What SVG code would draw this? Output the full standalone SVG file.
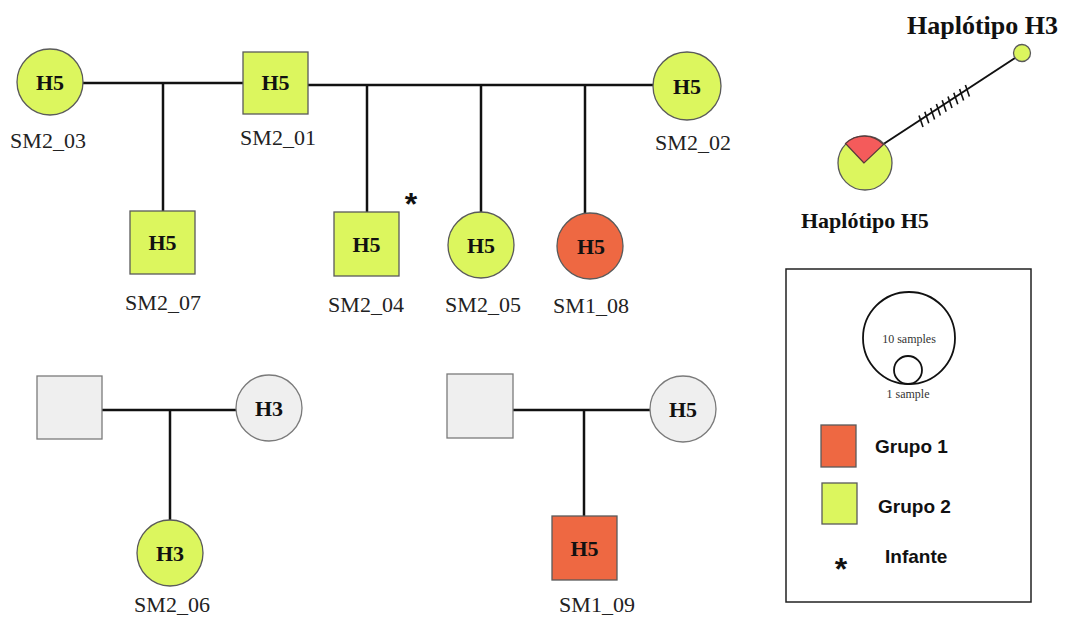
<svg xmlns="http://www.w3.org/2000/svg" width="1066" height="619" viewBox="0 0 1066 619">
<style>
.g{fill:#dcf65e;stroke:#5a5a5a;stroke-width:1.3}
.r{fill:#ee6842;stroke:#5a5a5a;stroke-width:1.3}
.n{fill:#efefef;stroke:#7a7a7a;stroke-width:1.3}
.h{font-family:"Liberation Serif",serif;font-weight:bold;font-size:22px;fill:#111;text-anchor:middle}
.l{font-family:"Liberation Serif",serif;font-size:22px;fill:#222;text-anchor:middle}
.c line,.c polyline{stroke:#111;stroke-width:2.5;fill:none}
.ht{font-family:"Liberation Serif",serif;font-weight:bold;fill:#111}
.lg{font-family:"Liberation Sans",sans-serif;font-weight:bold;font-size:19px;fill:#111}
.s{font-family:"Liberation Serif",serif;font-size:12px;fill:#333;text-anchor:middle}
.ast{font-family:"Liberation Sans",sans-serif;font-weight:bold;font-size:32px;fill:#111;text-anchor:middle}
</style>
<rect width="1066" height="619" fill="#fff"/>
<g class="c" id="connectors">
<line x1="83" y1="83" x2="243" y2="83"/>
<line x1="163" y1="83" x2="163" y2="211"/>
<line x1="308" y1="85" x2="654" y2="85"/>
<line x1="367" y1="85" x2="367" y2="212"/>
<line x1="481" y1="85" x2="481" y2="212"/>
<line x1="585" y1="85" x2="585" y2="213"/>
<line x1="102" y1="410" x2="236" y2="410"/>
<line x1="170" y1="410" x2="170" y2="520"/>
<line x1="513" y1="410" x2="650" y2="410"/>
<line x1="584" y1="410" x2="584" y2="516"/>
</g>
<g id="SM2_03"><circle class="g" cx="50" cy="82" r="33"/><text class="h" x="50" y="90">H5</text><text class="l" x="48" y="148">SM2_03</text></g>
<g id="SM2_01"><rect class="g" x="243" y="52" width="65" height="62"/><text class="h" x="275.5" y="90">H5</text><text class="l" x="278" y="145">SM2_01</text></g>
<g id="SM2_02"><circle class="g" cx="687" cy="86" r="34"/><text class="h" x="687" y="94">H5</text><text class="l" x="693" y="150">SM2_02</text></g>
<g id="SM2_07"><rect class="g" x="130" y="211" width="65" height="63"/><text class="h" x="162.5" y="250">H5</text><text class="l" x="163" y="310">SM2_07</text></g>
<g id="SM2_04"><rect class="g" x="334" y="212" width="65" height="64"/><text class="h" x="366.5" y="252">H5</text><text class="l" x="366" y="312">SM2_04</text><text class="ast" x="411" y="215">*</text></g>
<g id="SM2_05"><circle class="g" cx="481" cy="245" r="33"/><text class="h" x="481" y="253">H5</text><text class="l" x="483" y="312">SM2_05</text></g>
<g id="SM1_08"><circle class="r" cx="590" cy="246" r="33"/><text class="h" x="591" y="254">H5</text><text class="l" x="591" y="313">SM1_08</text></g>
<g id="father1"><rect class="n" x="37" y="376" width="65" height="63"/></g>
<g id="mother1"><circle class="n" cx="269" cy="408" r="33"/><text class="h" x="269" y="416">H3</text></g>
<g id="SM2_06"><circle class="g" cx="170" cy="553" r="33"/><text class="h" x="170" y="561">H3</text><text class="l" x="172" y="612">SM2_06</text></g>
<g id="father2"><rect class="n" x="447" y="374" width="66" height="64"/></g>
<g id="mother2"><circle class="n" cx="683" cy="409" r="33"/><text class="h" x="683" y="417">H5</text></g>
<g id="SM1_09"><rect class="r" x="552" y="516" width="65" height="64"/><text class="h" x="584.5" y="556">H5</text><text class="l" x="597" y="612">SM1_09</text></g>
<g id="network">
<line x1="882" y1="145" x2="1015" y2="58" stroke="#111" stroke-width="2"/>
<g stroke="#111" stroke-width="1.6">
<line x1="919" y1="115.5" x2="923" y2="127"/>
<line x1="924.8" y1="111.7" x2="928.8" y2="123.2"/>
<line x1="930.6" y1="107.9" x2="934.6" y2="119.4"/>
<line x1="936.4" y1="104.1" x2="940.4" y2="115.6"/>
<line x1="942.2" y1="100.3" x2="946.2" y2="111.8"/>
<line x1="948" y1="96.5" x2="952" y2="108"/>
<line x1="953.8" y1="92.7" x2="957.8" y2="104.2"/>
<line x1="959.6" y1="88.9" x2="963.6" y2="100.4"/>
<line x1="965.4" y1="85.1" x2="969.4" y2="96.6"/>
</g>
<circle class="g" cx="1022" cy="53" r="8.5"/>
<circle class="g" cx="865" cy="163" r="27"/>
<path d="M864 163 L845.5 143.5 A27 27 0 0 1 883.5 144.5 Z" fill="#f45b5b" stroke="#5a3a3a" stroke-width="1.2"/>
<text class="ht" x="907" y="34" font-size="26">Haplótipo H3</text>
<text class="ht" x="801" y="228" font-size="22">Haplótipo H5</text>
</g>
<g id="legend">
<rect x="786" y="269" width="245" height="333" fill="none" stroke="#222" stroke-width="1.5"/>
<circle cx="909" cy="338" r="46" fill="none" stroke="#111" stroke-width="1.8"/>
<circle cx="908" cy="370" r="14" fill="none" stroke="#111" stroke-width="1.8"/>
<text class="s" x="909" y="343">10 samples</text>
<text class="s" x="908" y="398">1 sample</text>
<rect class="r" x="821" y="425" width="35" height="42"/>
<text class="lg" x="875" y="453">Grupo 1</text>
<rect class="g" x="822" y="483" width="35" height="41"/>
<text class="lg" x="878" y="513">Grupo 2</text>
<text class="ast" x="841" y="580">*</text>
<text class="lg" x="885" y="563" font-size="18">Infante</text>
</g>
</svg>
